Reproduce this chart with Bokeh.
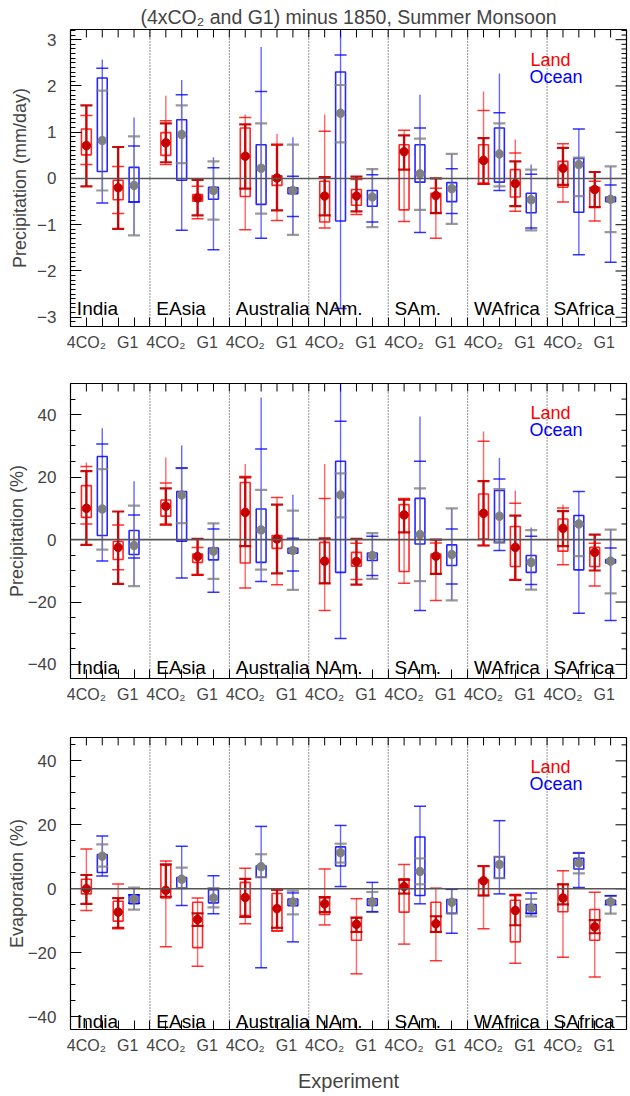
from bokeh.plotting import figure
from bokeh.layouts import column
from bokeh.models import (Range1d, FixedTicker, SingleIntervalTicker,
                          Span, CustomJSTickFormatter)
from bokeh.embed import file_html
from bokeh.resources import INLINE
from bokeh.core.properties import value

FONT = "Liberation Sans"

REGIONS = ["India", "EAsia", "Australia", "NAm.", "SAm.", "WAfrica", "SAfrica"]
# per region the items are: Land 4CO2, Ocean 4CO2, Land G1, Ocean G1
KIND = ["land", "ocean", "land", "ocean"]

# ---------------- Panel 1: precipitation (mm/day) ----------------
P1_LO = [-0.17, -0.53, -1.09, -1.23,  0.30, -1.12, -0.87, -1.54, -1.11, -1.29, -0.91, -1.22,
         -1.07, -2.81, -0.78, -1.05, -0.93, -1.17, -1.29, -0.98, -0.12, -0.26, -0.71, -1.12,
         -0.51, -1.65, -0.92, -1.81]
P1_HI = [1.58, 2.57, 0.68, 1.32, 1.79, 2.13, -0.03, 0.46, 1.38, 2.84, 0.96, 0.89,
         1.38, 3.20, 0.04, 0.22, 1.04, 1.81, 0.00, 0.53, 1.88, 2.27, 0.84, 0.30,
         0.75, 1.07, 0.14, 0.26]
P1_CLO = [0.30, -0.53, -0.76, -0.51, 0.30, -1.12, -0.87, -1.54, -1.11, -1.29, -0.91, -0.82,
          -1.07, -2.81, -0.78, -0.94, -0.93, -1.17, -1.29, -0.76, -0.12, -0.26, -0.71, -1.07,
          -0.51, -1.65, -0.92, -1.81]
P1_CHI = [1.36, 2.38, 0.26, 0.70, 1.25, 1.81, -0.17, 0.23, 1.32, 1.88, 0.73, 0.05,
          1.02, 2.67, -0.02, 0.08, 1.04, 1.09, -0.21, 0.21, 1.47, 1.42, 0.55, 0.09,
          0.75, 1.07, -0.06, -0.14]
P1_DLO = [-0.17, -0.26, -1.09, -1.23, 0.35, 0.33, -0.80, -0.89, -0.22, -0.76, -0.69, -1.22,
          -0.80, 0.78, -0.71, -1.05, 0.19, -0.68, -0.75, -0.98, -0.12, -0.17, -0.60, -1.12,
          -0.14, -0.38, -0.62, -1.16]
P1_DHI = [1.58, 1.90, 0.68, 0.91, 1.19, 1.58, -0.03, 0.37, 1.17, 1.19, 0.73, 0.73,
          0.03, 2.02, 0.04, 0.20, 0.93, 0.86, 0.00, 0.53, 0.87, 1.19, 0.37, 0.19,
          0.66, 0.45, 0.14, 0.26]
P1_Q1 = [0.51, 0.15, -0.46, -0.51, 0.50, -0.04, -0.49, -0.45, -0.39, -0.56, -0.15, -0.33,
         -0.94, -0.92, -0.58, -0.60, -0.68, -0.08, -0.75, -0.50, -0.10, -0.08, -0.40, -0.74,
         -0.19, -0.73, -0.62, -0.50]
P1_Q3 = [1.07, 2.17, -0.04, 0.24, 0.99, 1.27, -0.35, -0.19, 1.09, 0.73, 0.06, -0.20,
         -0.06, 2.30, -0.24, -0.26, 0.73, 0.73, -0.32, -0.09, 0.73, 1.09, 0.19, -0.32,
         0.37, 0.43, -0.19, -0.40]
P1_MEAN = [0.71, 0.82, -0.20, -0.15, 0.77, 0.95, -0.42, -0.26, 0.48, 0.22, 0.01, -0.26,
           -0.38, 1.41, -0.38, -0.40, 0.58, 0.10, -0.37, -0.22, 0.39, 0.53, -0.11, -0.46,
           0.22, 0.30, -0.24, -0.45]

# ---------------- Panel 2: precipitation (%) ----------------
P2_LO = [-1.7, -6.9, -14.2, -14.9, 4.8, -12.3, -11.3, -16.9, -15.5, -13.4, -14.5, -16.1,
         -22.7, -31.7, -14.4, -12.6, -14.0, -22.7, -19.5, -19.5, -1.9, -3.5, -12.9, -16.0,
         -8.1, -23.6, -14.9, -25.9]
P2_HI = [24.7, 35.7, 9.0, 18.7, 26.3, 30.1, 0.2, 5.2, 24.2, 45.5, 13.5, 14.4,
         24.2, 50.0, 0.2, 2.1, 13.2, 39.4, 0.0, 10.0, 34.6, 26.1, 15.7, 3.9,
         11.2, 15.4, 1.6, 3.2]
P2_CLO = [5.0, -6.9, -9.7, -5.9, 4.8, -12.3, -11.3, -16.9, -15.5, -13.4, -14.5, -10.1,
          -22.7, -31.7, -12.8, -11.5, -14.0, -22.7, -19.5, -14.2, -1.9, -3.5, -12.9, -14.4,
          -8.1, -23.6, -14.9, -25.9]
P2_CHI = [23.4, 30.6, 4.7, 7.9, 18.1, 22.9, -2.5, 3.4, 20.2, 29.0, 13.5, 0.4,
          13.2, 37.9, -1.2, 1.1, 13.2, 25.1, -1.1, 3.4, 31.5, 19.4, 11.6, 1.1,
          10.1, 15.4, -1.2, -2.7]
P2_DLO = [-1.7, -3.2, -14.2, -14.9, 4.8, 5.3, -11.3, -12.6, -2.1, -9.6, -10.8, -16.1,
          -14.0, 7.1, -14.4, -12.6, 2.3, -13.3, -11.0, -19.5, -1.9, -1.0, -12.9, -16.0,
          -2.1, -5.3, -9.9, -17.2]
P2_DHI = [21.9, 22.6, 9.0, 10.9, 16.4, 22.9, 0.2, 5.2, 19.9, 15.9, 11.2, 9.3,
          0.4, 21.2, 0.2, 2.1, 12.8, 16.4, 0.0, 10.0, 18.7, 16.2, 7.7, 3.0,
          9.1, 5.0, 1.6, 3.2]
P2_Q1 = [7.1, 1.3, -6.4, -4.8, 7.5, -0.5, -7.3, -6.5, -7.5, -7.3, -2.8, -4.4,
         -14.0, -10.5, -8.5, -6.7, -10.2, -1.4, -11.0, -8.3, 0.2, -0.9, -8.6, -10.5,
         -3.7, -9.7, -8.6, -7.5]
P2_Q3 = [17.3, 26.6, -0.6, 2.9, 12.7, 15.4, -4.6, -2.7, 18.3, 9.8, 1.3, -2.8,
         -0.9, 25.1, -4.1, -4.3, 11.2, 13.2, -4.6, -1.7, 14.6, 15.7, 4.2, -5.1,
         6.6, 7.7, -2.5, -6.4]
P2_MEAN = [10.0, 9.8, -2.5, -1.9, 10.7, 14.3, -5.4, -3.7, 8.7, 3.1, 0.2, -3.5,
           -6.9, 14.3, -7.0, -5.1, 7.9, 1.6, -5.3, -4.8, 8.4, 7.5, -2.5, -7.3,
           3.6, 5.0, -4.1, -6.9]

# ---------------- Panel 3: evaporation (%) ----------------
P3_LO = [-6.8, 4.0, -12.5, -6.5, -18.1, -5.2, -24.2, -7.8, -10.9, -24.7, -13.2, -16.6,
         -11.3, 0.7, -26.6, -7.2, -17.3, -4.7, -22.5, -13.9, -12.5, -1.6, -23.3, -8.6,
         -21.4, 0.4, -27.6, -7.8]
P3_HI = [12.4, 16.5, 1.5, 0.4, 8.7, 13.3, -2.9, 4.1, 6.4, 19.5, -0.3, -0.6,
         6.2, 19.8, -3.1, 2.0, 7.6, 25.8, 0.2, -0.1, 7.1, 21.3, -1.9, -1.3,
         5.6, 11.2, -1.1, -2.2]
P3_CLO = [-6.8, 4.0, -12.5, -4.5, -18.1, -5.2, -24.2, -7.8, -10.9, -24.7, -13.2, -16.6,
          -11.3, 0.7, -26.6, -7.2, -17.3, -4.7, -22.5, -13.9, -12.5, -1.6, -23.3, -7.7,
          -21.4, 0.4, -27.6, -5.0]
P3_CHI = [12.4, 16.5, 1.5, -1.9, 8.7, 13.3, -2.9, 4.1, 6.4, 19.5, -0.3, -1.3,
          6.2, 19.8, -3.1, 2.0, 7.6, 25.8, 0.2, -0.1, 7.1, 21.3, -2.2, -1.3,
          5.6, 11.2, -1.1, -2.2]
P3_DLO = [-4.7, 6.9, -12.2, -6.5, -2.5, 0.2, -11.6, -5.8, -8.8, 3.6, -12.2, -8.0,
          -7.3, 8.2, -13.5, -7.2, -1.5, 1.4, -13.5, -7.7, -2.1, 3.3, -11.4, -8.6,
          -4.9, 4.8, -13.9, -7.8]
P3_DHI = [4.3, 13.9, -2.9, 0.4, 7.6, 6.6, -7.7, 0.2, 3.1, 10.8, -0.3, -0.6,
          -2.6, 14.1, -9.0, -1.0, 2.8, 9.5, -8.6, -0.1, 7.1, 10.0, -1.9, -3.2,
          1.4, 11.2, -9.8, -2.2]
P3_Q1 = [-1.6, 5.1, -10.1, -4.7, -2.9, 0.2, -18.4, -4.4, -8.4, 3.6, -13.2, -5.3,
         -8.0, 7.1, -16.1, -5.2, -7.3, -2.1, -13.5, -7.7, -2.1, 3.3, -16.6, -7.7,
         -7.2, 6.2, -16.1, -4.7]
P3_Q3 = [3.0, 10.7, -3.9, -1.9, 7.4, 3.5, -4.2, -0.3, 2.0, 7.2, -1.5, -3.2,
         -2.9, 13.1, -9.1, -3.1, 3.1, 16.2, -4.2, -3.4, 2.8, 10.0, -3.6, -4.9,
         1.4, 9.5, -6.5, -3.6]
P3_MEAN = [0.0, 10.2, -7.3, -3.2, -0.5, 3.0, -9.6, -2.9, -2.7, 6.9, -6.2, -4.1,
           -4.7, 11.3, -11.1, -4.1, 0.7, 5.4, -10.9, -4.2, 2.5, 7.6, -6.8, -6.0,
           -2.9, 8.1, -11.9, -4.1]

COL = {"land": "#ff0000", "ocean": "#0000ff"}
DARK = {"land": "#c40000", "ocean": "#808080"}

FRAME_W = 556.0
X_MAX = 35.0


def panel(height, top, bottom, yr, ylabel, interval, nminor, data, label_y, land_y, ocean_y,
          title=None, xlabel=None, ylab_standoff=4):
    lo, hi, clo, chi, dlo, dhi, q1, q3, mean = data
    frame_h = height - top - bottom
    p = figure(width=630, height=height, x_range=Range1d(0, X_MAX), y_range=Range1d(*yr),
               output_backend="svg", toolbar_location=None,
               min_border_left=70, min_border_right=4, min_border_top=top,
               min_border_bottom=bottom)
    p.xgrid.visible = False
    p.ygrid.visible = False
    p.outline_line_color = "black"
    p.outline_line_width = 1.2
    p.background_fill_color = "white"
    p.border_fill_color = "white"

    # bottom x axis: group labels + integer ticks (drawn as minor ticks)
    labpos = []
    for r in range(7):
        labpos += [5 * r + 1.0, 5 * r + 3.6]
    xa = p.xaxis[0]
    xa.ticker = FixedTicker(ticks=labpos, minor_ticks=list(range(1, 35)))
    xa.formatter = CustomJSTickFormatter(
        code="const r = tick - 5*Math.floor(tick/5); return r < 2.5 ? '4CO\u2082' : 'G1';")
    xa.major_tick_in = 0
    xa.major_tick_out = 0
    xa.minor_tick_in = 9
    xa.minor_tick_out = 0
    xa.axis_line_color = None
    xa.major_label_text_font = FONT
    xa.major_label_text_font_size = "16px"
    xa.major_label_standoff = 7
    if xlabel:
        xa.axis_label = xlabel
        xa.axis_label_text_font = FONT
        xa.axis_label_text_font_size = "20px"
        xa.axis_label_text_font_style = "normal"
        xa.axis_label_standoff = 13

    ya = p.yaxis[0]
    ya.ticker = SingleIntervalTicker(interval=interval, num_minor_ticks=nminor)
    ya.formatter = CustomJSTickFormatter(
        code="return tick < 0 ? '\u2212' + Math.abs(tick) : String(tick);")
    ya.major_tick_in = 11
    ya.major_tick_out = 0
    ya.minor_tick_in = 5
    ya.minor_tick_out = 0
    ya.axis_line_color = None
    ya.major_label_text_font = FONT
    ya.major_label_text_font_size = "17px"
    ya.major_label_standoff = 14
    ya.axis_label = ylabel
    ya.axis_label_text_font = FONT
    ya.axis_label_text_font_size = "18px"
    ya.axis_label_text_font_style = "normal"
    ya.axis_label_standoff = ylab_standoff

    # mirrored tick marks on the top and right frame edges
    ymin, ymax = yr
    ypx = (ymax - ymin) / frame_h
    xpx = X_MAX / FRAME_W
    tx = list(range(1, 35))
    p.segment(x0=tx, y0=[ymax - 8 * ypx] * len(tx), x1=tx, y1=[ymax] * len(tx),
              line_color="black", line_width=1)
    step = interval / nminor
    k0 = int(ymin // step) + 1
    k1 = int(ymax // step)
    ys = [k * step for k in range(k0, k1 + 1)]
    majors = [y for y in ys if abs(y / interval - round(y / interval)) < 1e-6]
    minors = [y for y in ys if y not in majors]
    p.segment(x0=[X_MAX - 11 * xpx] * len(majors), y0=majors, x1=[X_MAX] * len(majors),
              y1=majors, line_color="black", line_width=1)
    p.segment(x0=[X_MAX - 5 * xpx] * len(minors), y0=minors, x1=[X_MAX] * len(minors),
              y1=minors, line_color="black", line_width=1)

    for r in range(1, 7):
        p.add_layout(Span(location=5 * r, dimension="height", line_color="#222222",
                          line_dash="1 2", line_width=1))
    p.add_layout(Span(location=0, dimension="width", line_color="#555555", line_width=1.6))

    for kind in ["land", "ocean"]:
        sel = [i for i in range(28) if KIND[i % 4] == kind]
        xs = [5 * (i // 4) + 1 + (i % 4) for i in sel]
        c = COL[kind]
        d = DARK[kind]
        L = [lo[i] for i in sel]
        H = [hi[i] for i in sel]
        CL = [clo[i] for i in sel]
        CH = [chi[i] for i in sel]
        DL = [dlo[i] for i in sel]
        DH = [dhi[i] for i in sel]
        Q1 = [q1[i] for i in sel]
        Q3 = [q3[i] for i in sel]
        M = [mean[i] for i in sel]
        xl = [x - 0.38 for x in xs]
        xr = [x + 0.38 for x in xs]
        p.segment(x0=xs, y0=L, x1=xs, y1=H, line_color=c, line_alpha=0.6, line_width=1.4)
        p.quad(left=[x - 0.31 for x in xs], right=[x + 0.31 for x in xs], bottom=Q1, top=Q3,
               fill_color=None, line_color=c, line_alpha=0.85, line_width=1.6)
        if kind == "land":
            p.segment(x0=xs, y0=DL, x1=xs, y1=DH, line_color=d, line_alpha=0.95, line_width=2.4)
            cap_alpha = 0.95
        else:
            p.segment(x0=xs, y0=DL, x1=xs, y1=DH, line_color=d, line_alpha=0.45, line_width=2.0)
            cap_alpha = 0.8
        p.segment(x0=xl, y0=DL, x1=xr, y1=DL, line_color=d, line_alpha=cap_alpha, line_width=2.2)
        p.segment(x0=xl, y0=DH, x1=xr, y1=DH, line_color=d, line_alpha=cap_alpha, line_width=2.2)
        p.segment(x0=xl, y0=CL, x1=xr, y1=CL, line_color=c, line_alpha=0.8, line_width=1.5)
        p.segment(x0=xl, y0=CH, x1=xr, y1=CH, line_color=c, line_alpha=0.8, line_width=1.5)
        p.scatter(x=xs, y=M, size=8.5, fill_color=d, line_color=d)

    p.text(x=[5 * r + 0.4 for r in range(7)], y=[label_y] * 7, text=REGIONS,
           text_font=value(FONT), text_font_size="19px", text_baseline="alphabetic",
           text_color="black")
    p.text(x=[28.95], y=[land_y], text=["Land"], text_font=value(FONT), text_font_size="18px",
           text_baseline="alphabetic", text_color="#ff0000")
    p.text(x=[28.9], y=[ocean_y], text=["Ocean"], text_font=value(FONT), text_font_size="18px",
           text_baseline="alphabetic", text_color="#0000ff")

    if title:
        p.title.text = title
        p.title.text_font = FONT
        p.title.text_font_size = "19.5px"
        p.title.text_font_style = "normal"
        p.title.align = "center"
        p.title.standoff = 4
    return p


p1 = panel(356, 29, 30, (-3.2, 3.22), "Precipitation (mm/day)", 1, 10,
           (P1_LO, P1_HI, P1_CLO, P1_CHI, P1_DLO, P1_DHI, P1_Q1, P1_Q3, P1_MEAN),
           -2.81, 2.56, 2.19, title="(4xCO\u2082 and G1) minus 1850, Summer Monsoon",
           ylab_standoff=4)
p2 = panel(356, 27, 34, (-44.5, 50.0), "Precipitation (%)", 20, 4,
           (P2_LO, P2_HI, P2_CLO, P2_CHI, P2_DLO, P2_DHI, P2_Q1, P2_Q3, P2_MEAN),
           -41.0, 40.4, 35.1, ylab_standoff=-2)
p3 = panel(382, 25, 61, (-44.0, 47.3), "Evaporation (%)", 20, 4,
           (P3_LO, P3_HI, P3_CLO, P3_CHI, P3_DLO, P3_DHI, P3_Q1, P3_Q3, P3_MEAN),
           -41.5, 38.2, 32.9, xlabel="Experiment", ylab_standoff=-2)

layout = column(p1, p2, p3)
open("out.html", "w").write(file_html(layout, INLINE))
